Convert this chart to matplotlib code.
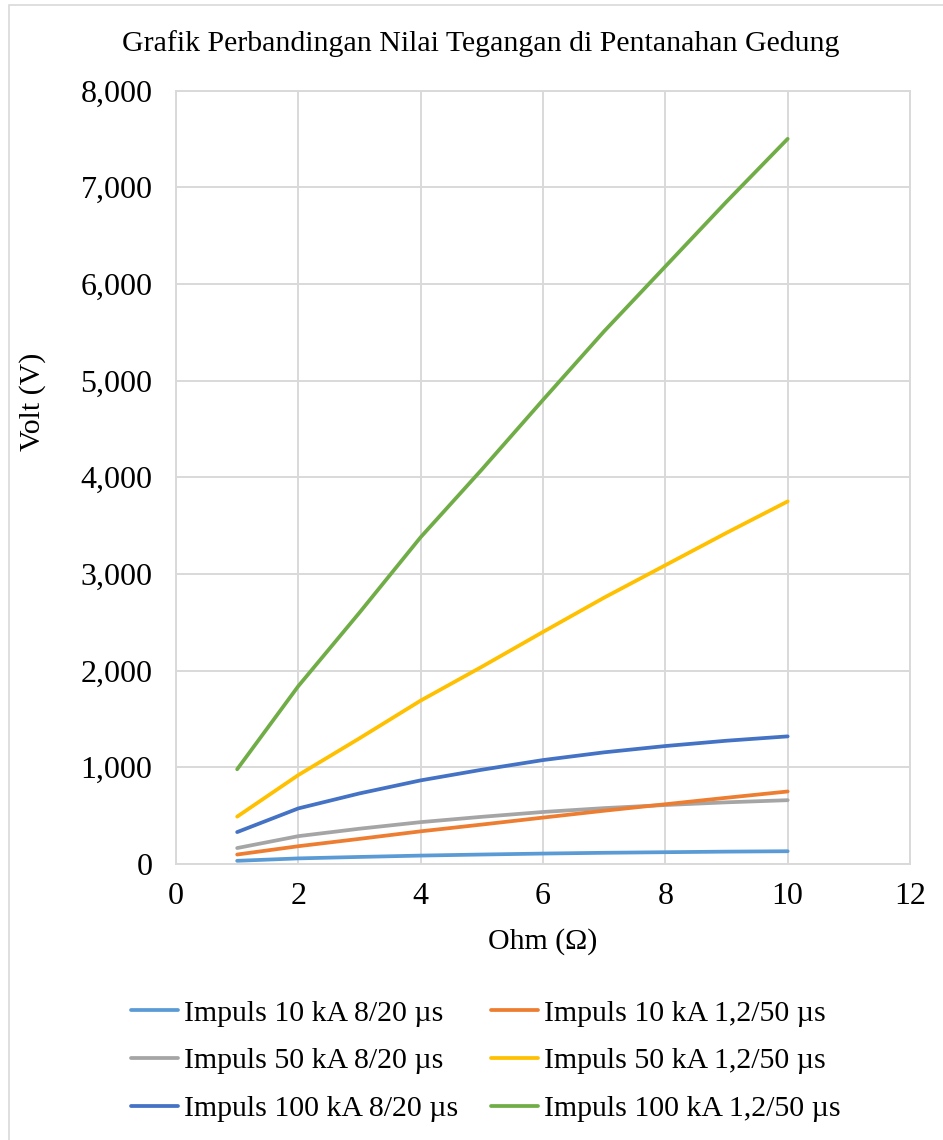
import matplotlib
matplotlib.use("Agg")
import matplotlib.pyplot as plt
from matplotlib.patches import Rectangle
from matplotlib.ticker import FuncFormatter, MultipleLocator

plt.rcParams['font.family'] = ['Liberation Serif', 'DejaVu Serif']

# Ground resistance (ohm)
resistance = [1, 2, 3, 4, 5, 6, 7, 8, 9, 10]

# Voltage at the building grounding (V)
v_10ka_8_20 = [33, 58, 73, 87, 98, 108, 116, 122, 128, 132]
v_50ka_8_20 = [165, 288, 365, 433, 488, 538, 578, 610, 638, 660]
v_100ka_8_20 = [330, 575, 730, 865, 975, 1075, 1155, 1220, 1275, 1320]
v_10ka_12_50 = [98, 184, 260, 338, 408, 480, 551, 618, 685, 750]
v_50ka_12_50 = [490, 920, 1300, 1690, 2040, 2400, 2755, 3090, 3425, 3750]
v_100ka_12_50 = [980, 1840, 2600, 3380, 4080, 4800, 5510, 6180, 6850, 7500]

series_labels = [
    "Impuls 10 kA 8/20 µs",
    "Impuls 50 kA 8/20 µs",
    "Impuls 100 kA 8/20 µs",
    "Impuls 10 kA 1,2/50 µs",
    "Impuls 50 kA 1,2/50 µs",
    "Impuls 100 kA 1,2/50 µs",
]
series_values = [v_10ka_8_20, v_50ka_8_20, v_100ka_8_20,
                 v_10ka_12_50, v_50ka_12_50, v_100ka_12_50]
series_colors = ["#5B9BD5", "#A5A5A5", "#4472C4",
                 "#ED7D31", "#FFC000", "#70AD47"]

title = "Grafik Perbandingan Nilai Tegangan di Pentanahan Gedung"
x_label = "Ohm (Ω)"
y_label = "Volt (V)"

W, H = 943, 1140
fig = plt.figure(figsize=(W / 100, H / 100), dpi=100)
ax = fig.add_axes([176 / W, 1 - 864 / H, 734 / W, (864 - 90.5) / H])

grid_color = "#D9D9D9"
for vals, lab, col in zip(series_values, series_labels, series_colors):
    ax.plot(resistance, vals, color=col, lw=2.7, label=lab,
            solid_capstyle="round", solid_joinstyle="round", zorder=3)

ax.set_xlim(0, 12)
ax.set_ylim(0, 8000)
ax.xaxis.set_major_locator(MultipleLocator(2))
ax.yaxis.set_major_locator(MultipleLocator(1000))
ax.yaxis.set_major_formatter(FuncFormatter(lambda v, p: f"{int(v):,}"))
ax.grid(True, color=grid_color, lw=1.4, zorder=0)
ax.set_axisbelow(True)
for s in ax.spines.values():
    s.set_color(grid_color)
    s.set_linewidth(1.4)
ax.tick_params(length=0, labelsize=23, colors="black")
ax.tick_params(axis="y", pad=17)
ax.tick_params(axis="x", pad=13)

fig.text(481 / W, 1 - 44 / H, title, ha="center", va="center", fontsize=21.5)
fig.text(543 / W, 1 - 942 / H, x_label, ha="center", va="center", fontsize=21.5)
fig.text(33 / W, 1 - 402 / H, y_label, ha="center", va="center",
         fontsize=21.5, rotation=90)

handles, labels = ax.get_legend_handles_labels()
fig.legend(handles, labels, ncol=2, loc="center",
           bbox_to_anchor=(486 / W, 1 - 1061 / H), frameon=False,
           fontsize=21.5, handlelength=1.57, handletextpad=0.2,
           columnspacing=1.1, labelspacing=0.69)

# light outer border of the chart area
fig.add_artist(Rectangle((9 / W, -0.1), 2, (H - 5) / H + 0.1,
                         transform=fig.transFigure, fill=False,
                         ec=grid_color, lw=1.2))

fig.savefig("out.png", dpi=100, facecolor="white")
